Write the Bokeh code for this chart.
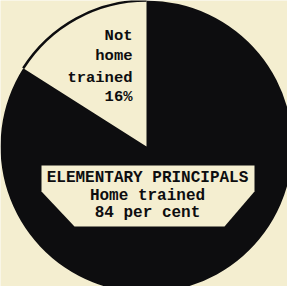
import numpy as np
from bokeh.plotting import figure
from bokeh.models import Range1d
from bokeh.core.properties import value
from bokeh.embed import file_html
from bokeh.resources import INLINE

# ---- data ----
categories = ["Not home trained", "Home trained"]
shares = [16, 84]
group = "ELEMENTARY PRINCIPALS"
not_lines = ["Not", "home", "trained", f"{shares[0]}%"]
home_lines = [group, "Home trained", f"{shares[1]} per cent"]

# ---- style ----
CREAM = "#f4eed0"
INK = "#0d0d0f"
FONT = value("Liberation Mono")
R = 146

p = figure(width=287, height=286, output_backend="svg", toolbar_location=None,
           x_range=Range1d(-146, 141), y_range=Range1d(-140, 146),
           min_border=0, background_fill_color=CREAM, border_fill_color=CREAM)
p.outline_line_color = None
p.axis.visible = False
p.grid.visible = False

# wedges from shares, starting at 12 o'clock, counterclockwise
ang = np.pi / 2 + np.concatenate([[0], np.cumsum(shares)]) / sum(shares) * 2 * np.pi
starts, ends = ang[:-1], ang[1:]
p.wedge(x=0, y=0, radius=R, start_angle=starts, end_angle=ends,
        fill_color=[CREAM, INK], line_color=None)
p.arc(x=0, y=0, radius=R, start_angle=starts[0], end_angle=ends[0],
      line_color=INK, line_width=2.5)

# label box (hexagon with cut lower corners)
bx0, bx1, by_top, by_side, by_bot, cut0, cut1 = -105, 108, -19, -45, -80, -72, 78
p.patch(x=[bx0, bx1, bx1, cut1, cut0, bx0], y=[by_top, by_top, by_side, by_bot, by_bot, by_side],
        fill_color=CREAM, line_color=None)

p.text(x=[-14] * 4, y=[111, 91, 69, 50], text=not_lines, text_font=FONT,
       text_font_style="bold", text_font_size="15.5px", text_align="right",
       text_baseline="middle", text_color=INK)
p.text(x=[1] * 3, y=[-31, -49, -66], text=home_lines, text_font=FONT,
       text_font_style="bold", text_font_size="16px", text_align="center",
       text_baseline="middle", text_color=INK)

open("out.html", "w").write(file_html(p, INLINE))
